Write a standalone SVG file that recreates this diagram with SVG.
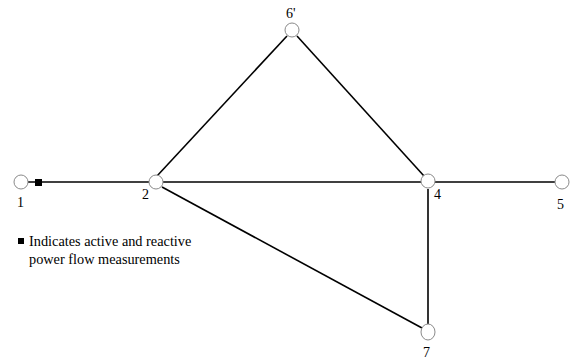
<svg xmlns="http://www.w3.org/2000/svg" width="573" height="362" viewBox="0 0 573 362">
<style>
.edge{stroke:#000;stroke-width:1.6;fill:none}
.bus{fill:#fff;stroke:#8a8a8a;stroke-width:1}
.lbl{font-family:"Liberation Serif","Times New Roman",serif;font-size:14px;fill:#000}
.leg{font-family:"Liberation Serif","Times New Roman",serif;font-size:14.3px;fill:#000}
</style>
<rect width="573" height="362" fill="#fff"/>
<g id="connectors">
<line class="edge" x1="28" y1="182" x2="149" y2="182"/>
<line class="edge" x1="163" y1="182" x2="421" y2="182"/>
<line class="edge" x1="435" y1="182" x2="555" y2="182"/>
<line class="edge" x1="157" y1="176" x2="287" y2="36"/>
<line class="edge" x1="297" y1="36" x2="424" y2="176"/>
<line class="edge" x1="162" y1="187" x2="422" y2="328"/>
<line class="edge" x1="428" y1="189" x2="428" y2="324"/>
<rect x="35" y="179" width="7" height="7" fill="#000"/>
</g>
<g id="node-1"><circle class="bus" cx="21" cy="182" r="7"/><text class="lbl" x="17" y="207">1</text></g>
<g id="node-2"><circle class="bus" cx="156" cy="182" r="7"/><text class="lbl" x="142" y="199">2</text></g>
<g id="node-6p"><circle class="bus" cx="292" cy="30" r="7"/><text class="lbl" x="286" y="18">6'</text></g>
<g id="node-4"><circle class="bus" cx="428" cy="181" r="7"/><text class="lbl" x="434" y="199">4</text></g>
<g id="node-5"><circle class="bus" cx="562" cy="182" r="7"/><text class="lbl" x="557" y="209">5</text></g>
<g id="node-7"><ellipse class="bus" cx="428" cy="332" rx="7" ry="8"/><text class="lbl" x="423" y="357">7</text></g>
<g id="legend">
<rect x="18" y="238" width="6" height="6" fill="#000"/>
<text class="leg" x="29" y="246">Indicates active and reactive</text>
<text class="leg" x="29" y="264">power flow measurements</text>
</g>
</svg>
